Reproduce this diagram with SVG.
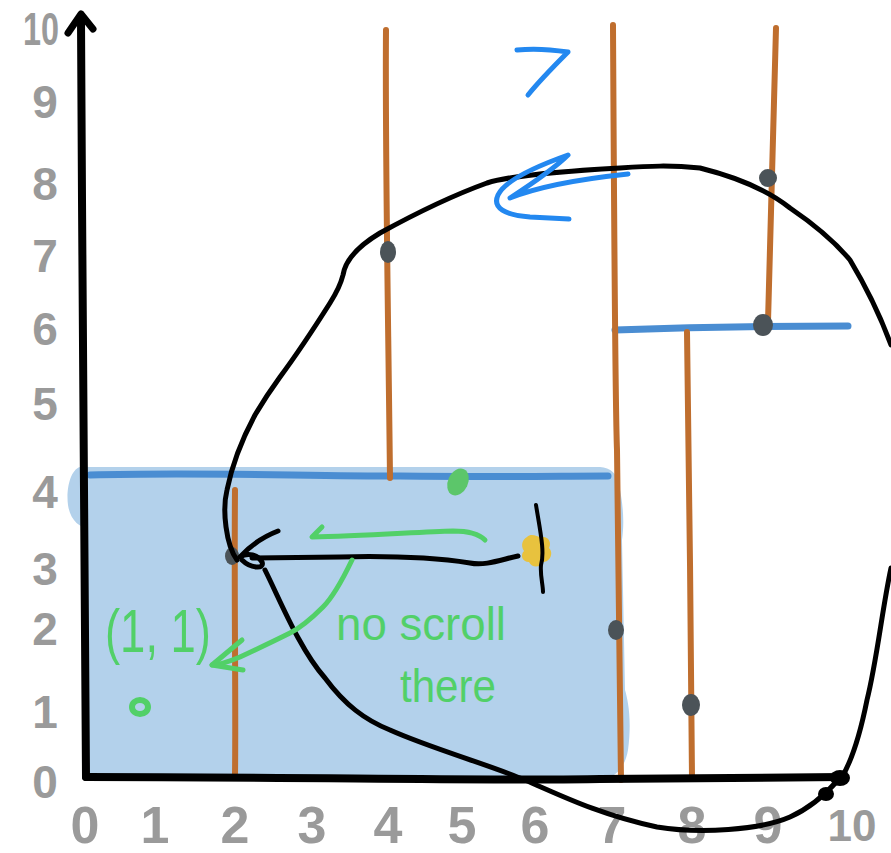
<svg xmlns="http://www.w3.org/2000/svg" width="891" height="853" viewBox="0 0 891 853">
<style>
.lab{font-family:"Liberation Sans",Arial,sans-serif;font-weight:bold;fill:#9a9a9a;text-anchor:middle}
.ly{font-size:46px}
.lx{font-size:52px}
.grn{font-family:"Liberation Sans",Arial,sans-serif;fill:#52d068}
.orange{fill:none;stroke:#bf6e2e;stroke-width:6;stroke-linecap:round}
.bline{fill:none;stroke:#4a8dd2;stroke-width:7;stroke-linecap:round}
.blk{fill:none;stroke:#000;stroke-linecap:round;stroke-linejoin:round}
.gs{fill:none;stroke:#52d068;stroke-width:5;stroke-linecap:round;stroke-linejoin:round}
.bs{fill:none;stroke:#2388f0;stroke-width:5;stroke-linecap:round;stroke-linejoin:round}
.dot{fill:#4b5358}
</style>
<rect width="891" height="853" fill="#fff"/>
<g id="region">
<path d="M80,467 C70,470 66,490 68,505 C70,520 80,528 88,528 L88,770 C92,778 100,780 110,780 L600,780 C615,778 625,768 628,750 C632,720 628,700 625,690 L622,540 C625,520 622,500 620,490 C618,472 610,468 600,467 Z" fill="#b3d1eb"/>
</g>
<g id="walls">
<path class="bline" d="M90,475 C200,472 300,476 400,476 C500,477 560,476 608,476"/>
<path class="bline" d="M615,330 C700,327 780,326 848,326"/>
<path class="orange" d="M235,490 C234,600 236,700 235,775"/>
<path class="orange" d="M386,30 C385,150 388,300 390,478"/>
<path class="orange" d="M613,25 C614,200 615,400 617,450 C619,600 621,700 621,780"/>
<path class="orange" d="M687,332 C689,450 691,650 692,778"/>
<path class="orange" d="M776,28 C774,120 771,220 768,322"/>
</g>
<g id="points">
<ellipse class="dot" cx="388" cy="252" rx="8" ry="11"/>
<ellipse class="dot" cx="768" cy="178" rx="9" ry="9"/>
<ellipse class="dot" cx="763" cy="325" rx="10" ry="11"/>
<ellipse class="dot" cx="616" cy="630" rx="8" ry="10"/>
<ellipse class="dot" cx="691" cy="705" rx="9" ry="11"/>
<ellipse class="dot" cx="232" cy="556" rx="7" ry="9"/>
<ellipse cx="458" cy="482" rx="10" ry="14" transform="rotate(25 458 482)" fill="#5cc66a"/>
<path d="M527,537 C532,532 538,538 542,537 C548,536 552,542 549,548 C554,553 550,562 543,562 C540,568 532,568 529,562 C522,562 520,555 524,551 C520,545 523,539 527,537 Z" fill="#e8c23e"/>
</g>
<g id="axes">
<path class="blk" stroke-width="8" d="M86,777 C85,600 83,400 82,200 L81,20"/>
<path class="blk" stroke-width="7" d="M68,33 L81,14 L93,29"/>
<path class="blk" stroke-width="8" d="M86,777 C300,777 500,781 600,779 L842,777"/>
<ellipse cx="840" cy="778" rx="10" ry="8" fill="#000"/>
<ellipse cx="826" cy="794" rx="8" ry="7" fill="#000"/>
</g>
<g id="labels">
<text class="lab ly" x="41" y="45" textLength="36" lengthAdjust="spacingAndGlyphs">10</text>
<text class="lab ly" x="45" y="118">9</text>
<text class="lab ly" x="45" y="200">8</text>
<text class="lab ly" x="45" y="272">7</text>
<text class="lab ly" x="45" y="345">6</text>
<text class="lab ly" x="45" y="420">5</text>
<text class="lab ly" x="45" y="508">4</text>
<text class="lab ly" x="45" y="585">3</text>
<text class="lab ly" x="45" y="645">2</text>
<text class="lab ly" x="45" y="728">1</text>
<text class="lab ly" x="45" y="798">0</text>
<text class="lab lx" x="85" y="843">0</text>
<text class="lab lx" x="155" y="843">1</text>
<text class="lab lx" x="235" y="843">2</text>
<text class="lab lx" x="312" y="843">3</text>
<text class="lab lx" x="388" y="843">4</text>
<text class="lab lx" x="462" y="843">5</text>
<text class="lab lx" x="535" y="843">6</text>
<text class="lab lx" x="612" y="843">7</text>
<text class="lab lx" x="692" y="843">8</text>
<text class="lab lx" x="768" y="843">9</text>
<text class="lab" x="852" y="841" font-size="44">10</text>
</g>
<g id="connectors">
<path class="blk" stroke-width="5" d="M518,556 C500,560 485,566 470,563 C430,557 380,556 340,557 L252,558"/>
<path class="blk" stroke-width="5" d="M278,531 C265,536 250,546 240,557 C248,552 258,555 262,562 C265,570 250,568 242,560"/>
<path class="blk" stroke-width="5" d="M237,560 C226,545 222,510 227,490 C232,465 240,443 255,415 C265,398 272,388 280,377 C300,350 318,322 330,303 C337,292 341,283 343,275 C345,262 355,248 380,233 C400,222 440,200 487,183 C510,176 550,172 620,168 C650,166 670,165 700,168 C740,178 770,192 790,208 C815,225 835,242 850,260 C865,285 880,315 891,345"/>
<path class="blk" stroke-width="5" d="M891,568 C882,610 877,660 867,700 C860,735 852,760 842,777"/>
<path class="blk" stroke-width="5" d="M265,570 C280,600 300,650 325,678 C345,705 365,720 390,730 C430,748 490,765 525,780 C560,795 600,815 657,827 C700,834 760,830 790,817 C810,808 825,795 838,780"/>
<path class="blk" stroke-width="4" d="M536,505 C540,530 545,552 541,565 C540,575 543,585 543,592"/>
<path class="gs" d="M322,527 L312,537 C360,536 420,532 453,531 C470,531 480,535 485,540"/>
<path class="gs" d="M352,560 C340,585 330,600 323,607 C310,620 300,628 290,633 C270,643 255,650 240,657 C228,662 218,665 212,665"/>
<path class="gs" d="M242,640 L212,665 L243,670"/>
<path class="bs" d="M517,50 C535,48 555,50 568,52 C555,65 540,80 528,95"/>
<path class="bs" d="M628,174 C590,178 540,186 510,198 C530,185 555,168 568,155 C540,165 505,180 498,195 C492,208 505,215 530,217 L569,219"/>
</g>
<g id="notes">
<text class="grn" x="105" y="652" font-size="62" textLength="106" lengthAdjust="spacingAndGlyphs">(1, 1)</text>
<ellipse cx="140" cy="707" rx="8" ry="7" fill="none" stroke="#52d068" stroke-width="6"/>
<text class="grn" x="336" y="640" font-size="46" textLength="170" lengthAdjust="spacingAndGlyphs">no scroll</text>
<text class="grn" x="400" y="702" font-size="46" textLength="96" lengthAdjust="spacingAndGlyphs">there</text>
</g>
</svg>
